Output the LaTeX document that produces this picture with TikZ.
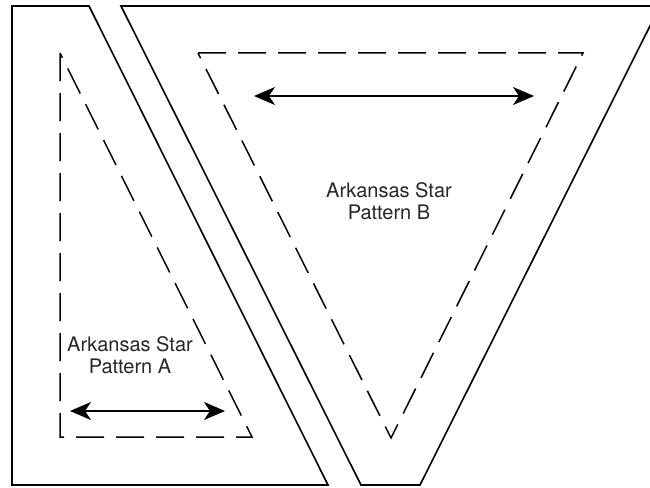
\documentclass[tikz,border=0pt]{standalone}
\usepackage{fontspec}
\setmainfont{TeX Gyre Heros}
\usetikzlibrary{arrows.meta}

\tikzset{
  outline/.style={line width=1.6pt, line join=miter},
  seam/.style={line width=1.5pt, dash pattern=on 28pt off 12pt},
  span/.style={line width=1.5pt,
    {Stealth[length=21pt,width=18pt,inset=6pt]}-{Stealth[length=21pt,width=18pt,inset=6pt]}},
  patname/.style={align=center, inner sep=0pt, text=black!85, font=\fontsize{20}{22}\selectfont}
}

\begin{document}
\begin{tikzpicture}[x=1pt,y=-1pt]
    \useasboundingbox (0,0) rectangle (650,487);
    \clip (0,0) rectangle (650,487);
    % cut lines
    \draw[outline] (12,6) -- (89,6) -- (328,485) -- (12,485) -- cycle;
    \draw[outline] (121,6) -- (660,6) -- (420,485) -- (361,485) -- cycle;
    % sewing lines
    \draw[seam] (60,53) -- (60,437) -- (252,437) -- cycle;
    \draw[seam] (198,53) -- (583,53) -- (391,438) -- cycle;
    % grain
    \coordinate (ga1) at (70,411);
    \coordinate (ga2) at (225,411);
    \coordinate (gb1) at (254,96);
    \coordinate (gb2) at (534,96);
    \draw[span] (ga1) -- (ga2);
    \draw[span] (gb1) -- (gb2);
    \node[patname] (pa) at (130,355) {Arkansas Star\\Pattern A};
    \node[patname] (pb) at (389,201) {Arkansas Star\\Pattern B};
\end{tikzpicture}
\end{document}
